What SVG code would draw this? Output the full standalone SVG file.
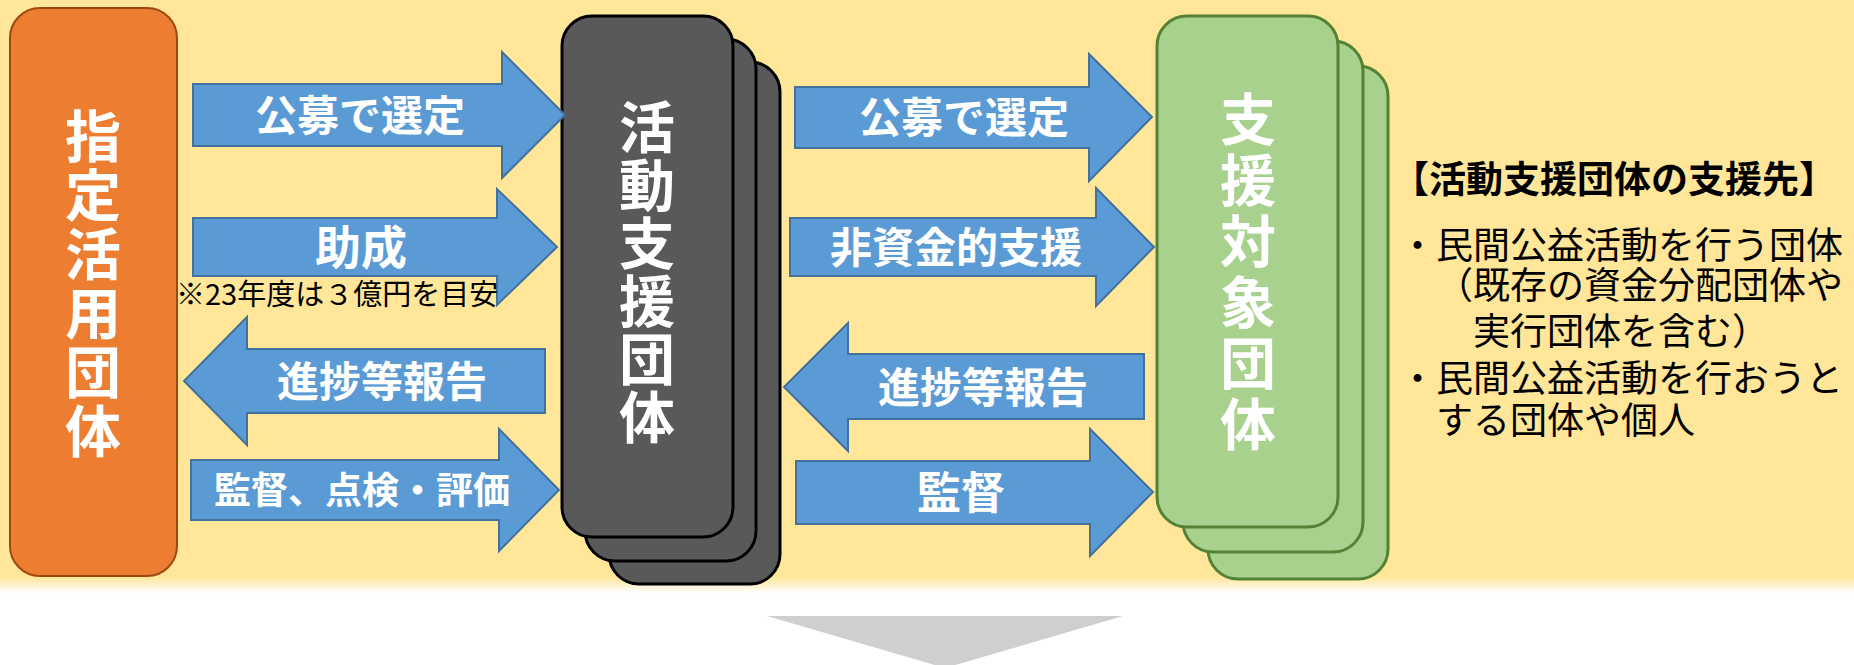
<svg xmlns="http://www.w3.org/2000/svg" width="1854" height="665" viewBox="0 0 1854 665">
<defs>
<linearGradient id="bgfade" x1="0" y1="0" x2="0" y2="1">
<stop offset="0" stop-color="#FFE699"/>
<stop offset="1" stop-color="#FFFFFF"/>
</linearGradient>
<style>
.arrow{fill:#5B9BD5;stroke:#41719C;stroke-width:2}
.lbl{font-family:"Noto Sans CJK JP","Noto Sans",sans-serif;font-weight:bold;fill:#FFFFFF;text-anchor:middle}
.vt{font-family:"Noto Sans CJK JP","Noto Sans",sans-serif;font-weight:bold;fill:#FFFFFF;text-anchor:middle;font-size:56px;writing-mode:vertical-rl}
.orange{fill:#ED7D31;stroke:#9E480E;stroke-width:2}
.dark{fill:#595959;stroke:#000000;stroke-width:3}
.green{fill:#A9D18E;stroke:#548235;stroke-width:3}
.note{font-family:"Noto Sans CJK JP","Noto Sans",sans-serif;fill:#000000}
</style>
</defs>
<rect x="0" y="0" width="1854" height="578" fill="#FFE699"/>
<rect x="0" y="577" width="1854" height="16" fill="url(#bgfade)"/>
<polygon points="767,616 1123,616 945,668" fill="#D0CED0"/>

<g id="node-shitei">
<rect class="orange" x="10" y="8" width="167" height="568" rx="30"/>
<text class="vt" x="93" y="285" letter-spacing="3">指定活用団体</text>
</g>

<g id="node-katsudo">
<rect class="dark" x="609" y="62" width="171" height="522" rx="30"/>
<rect class="dark" x="585" y="39" width="171" height="522" rx="30"/>
<rect class="dark" x="562" y="16" width="171" height="521" rx="30"/>
<text class="vt" x="647" y="273" letter-spacing="2">活動支援団体</text>
</g>

<g id="node-shientaisho">
<rect class="green" x="1208" y="66" width="180" height="513" rx="30"/>
<rect class="green" x="1183" y="41" width="180" height="511" rx="30"/>
<rect class="green" x="1157" y="16" width="181" height="511" rx="30"/>
<text class="vt" x="1248" y="274" letter-spacing="5">支援対象団体</text>
</g>

<g id="connectors">
<polygon class="arrow" points="193,84 502,84 502,52 565,115 502,178 502,146 193,146"/>
<text class="lbl" x="360" y="131" font-size="42">公募で選定</text>
<polygon class="arrow" points="193,218 497,218 497,189 557,247 497,305 497,276 193,276"/>
<text class="lbl" x="361" y="264" font-size="46">助成</text>
<text class="note" x="176" y="305" font-size="29">※23年度は３億円を目安</text>
<polygon class="arrow" points="545,349 247,349 247,317 184,381 247,445 247,413 545,413"/>
<text class="lbl" x="382" y="397" font-size="42">進捗等報告</text>
<polygon class="arrow" points="191,460 499,460 499,429 559,490 499,551 499,520 191,520"/>
<text class="lbl" x="362" y="504" font-size="37">監督、点検・評価</text>

<polygon class="arrow" points="795,87 1089,87 1089,54 1152,117 1089,181 1089,148 795,148"/>
<text class="lbl" x="964" y="133" font-size="42">公募で選定</text>
<polygon class="arrow" points="790,218 1096,218 1096,188 1154,247 1096,306 1096,276 790,276"/>
<text class="lbl" x="956" y="263" font-size="42">非資金的支援</text>
<polygon class="arrow" points="1144,354 848,354 848,323 784,387 848,451 848,419 1144,419"/>
<text class="lbl" x="983" y="403" font-size="42">進捗等報告</text>
<polygon class="arrow" points="796,461 1090,461 1090,429 1153,492 1090,556 1090,524 796,524"/>
<text class="lbl" x="961" y="509" font-size="44">監督</text>
</g>

<g id="side-text">
<text class="note" x="1392" y="193" font-size="37" font-weight="bold">【活動支援団体の支援先】</text>
<text class="note" x="1399" y="259" font-size="37">・民間公益活動を行う団体</text>
<text class="note" x="1436" y="299" font-size="37">（既存の資金分配団体や</text>
<text class="note" x="1473" y="345" font-size="37">実行団体を含む）</text>
<text class="note" x="1399" y="392" font-size="37">・民間公益活動を行おうと</text>
<text class="note" x="1436" y="434" font-size="37">する団体や個人</text>
</g>
</svg>
